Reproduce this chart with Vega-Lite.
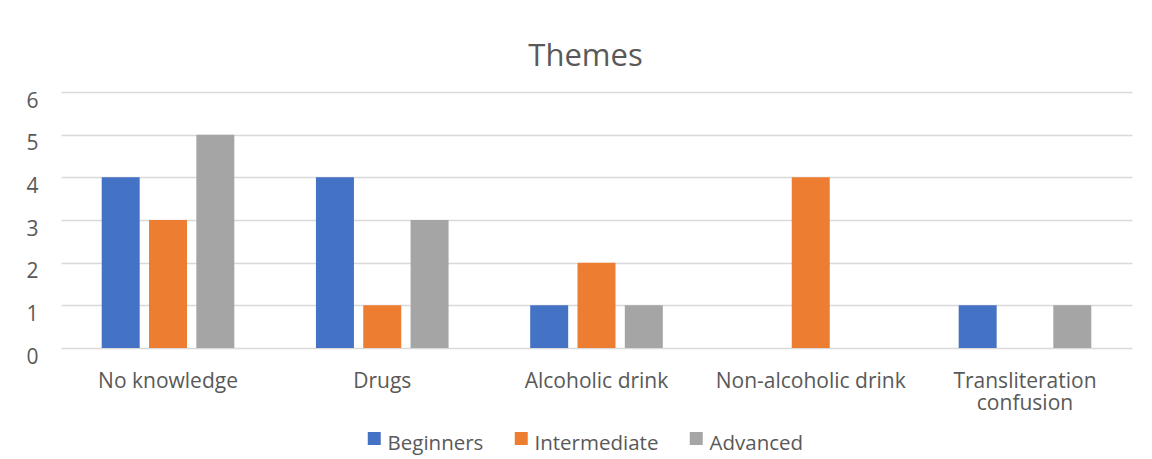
{
  "$schema": "https://vega.github.io/schema/vega-lite/v6.json",
  "width": 1071,
  "height": 256,
  "autosize": {"type": "none"},
  "padding": {"left": 61, "top": 92, "right": 20, "bottom": 111},
  "background": "white",
  "title": {
    "text": "Themes",
    "fontSize": 31,
    "font": "Open Sans",
    "fontWeight": "normal",
    "color": "#595959",
    "anchor": "middle",
    "baseline": "alphabetic",
    "offset": -7,
    "dx": -11
  },
  "data": {
    "values": [
      {"theme": "No knowledge", "level": "Beginners", "count": 4},
      {"theme": "No knowledge", "level": "Intermediate", "count": 3},
      {"theme": "No knowledge", "level": "Advanced", "count": 5},
      {"theme": "Drugs", "level": "Beginners", "count": 4},
      {"theme": "Drugs", "level": "Intermediate", "count": 1},
      {"theme": "Drugs", "level": "Advanced", "count": 3},
      {"theme": "Alcoholic drink", "level": "Beginners", "count": 1},
      {"theme": "Alcoholic drink", "level": "Intermediate", "count": 2},
      {"theme": "Alcoholic drink", "level": "Advanced", "count": 1},
      {"theme": "Non-alcoholic drink", "level": "Beginners", "count": 0},
      {"theme": "Non-alcoholic drink", "level": "Intermediate", "count": 4},
      {"theme": "Non-alcoholic drink", "level": "Advanced", "count": 0},
      {"theme": "Transliteration confusion", "level": "Beginners", "count": 1},
      {"theme": "Transliteration confusion", "level": "Intermediate", "count": 0},
      {"theme": "Transliteration confusion", "level": "Advanced", "count": 1}
    ]
  },
  "mark": {"type": "bar"},
  "encoding": {
    "x": {
      "field": "theme",
      "type": "nominal",
      "sort": ["No knowledge", "Drugs", "Alcoholic drink", "Non-alcoholic drink", "Transliteration confusion"],
      "scale": {"paddingInner": 0.381, "paddingOuter": 0.19},
      "axis": {
        "title": null,
        "labelAngle": 0,
        "labelFont": "Open Sans",
        "labelFontSize": 21,
        "labelColor": "#595959",
        "labelBaseline": "top",
        "labelPadding": 22,
        "labelLineHeight": 22,
        "labelLimit": 300,
        "labelOverlap": false,
        "labelExpr": "datum.label == 'Transliteration confusion' ? ['Transliteration', 'confusion'] : datum.label",
        "ticks": false,
        "domain": false,
        "grid": false
      }
    },
    "xOffset": {
      "field": "level",
      "type": "nominal",
      "sort": ["Beginners", "Intermediate", "Advanced"],
      "scale": {"paddingInner": 0.197, "paddingOuter": 0}
    },
    "y": {
      "field": "count",
      "type": "quantitative",
      "scale": {"domain": [0, 6], "nice": false},
      "axis": {
        "title": null,
        "values": [0, 1, 2, 3, 4, 5, 6],
        "labelFont": "Open Sans",
        "labelFontSize": 21,
        "labelColor": "#595959",
        "labelBaseline": "alphabetic",
        "labelOffset": 15,
        "labelPadding": 23,
        "labelOverlap": false,
        "labelFlush": false,
        "ticks": false,
        "domain": false,
        "grid": true,
        "gridColor": "#D9D9D9",
        "gridWidth": 1.3
      }
    },
    "color": {
      "field": "level",
      "type": "nominal",
      "sort": ["Beginners", "Intermediate", "Advanced"],
      "scale": {
        "domain": ["Beginners", "Intermediate", "Advanced"],
        "range": ["#4472C4", "#ED7D31", "#A5A5A5"]
      },
      "legend": {
        "title": null,
        "orient": "none",
        "direction": "horizontal",
        "legendX": 303,
        "legendY": 342,
        "symbolType": "M-1,-1.9L1,-1.9L1,0.1L-1,0.1Z",
        "symbolSize": 169,
        "symbolStrokeWidth": 0,
        "labelFont": "Open Sans",
        "labelFontSize": 20.5,
        "labelColor": "#595959",
        "labelOffset": 3,
        "columnPadding": 27,
        "padding": 0
      }
    }
  },
  "config": {
    "view": {"stroke": null}
  }
}
